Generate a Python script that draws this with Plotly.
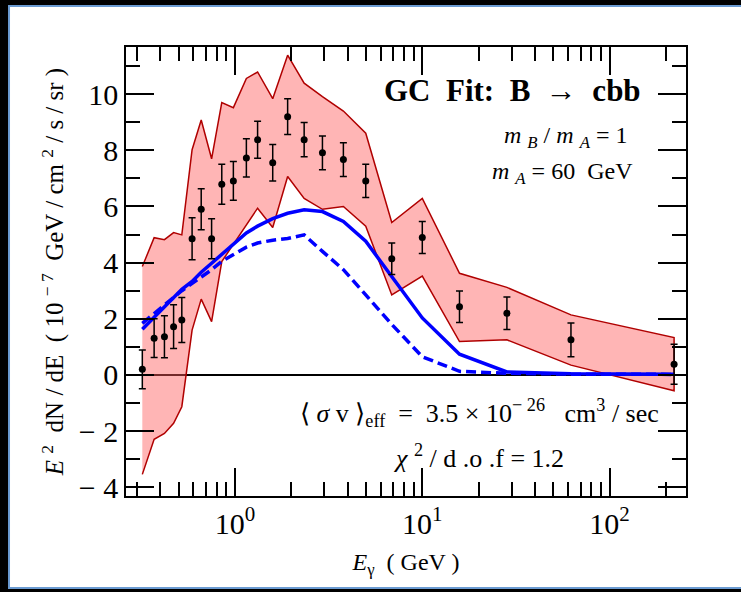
import plotly.graph_objects as go

# ---- data ----
energy = [0.32, 0.37, 0.42, 0.47, 0.52, 0.59, 0.66, 0.75, 0.85, 0.98, 1.15, 1.32,
          1.59, 1.91, 2.34, 2.93, 3.79, 4.99, 6.87, 10.0, 15.8, 28.3, 62.2, 221.0]
flux = [0.20, 1.31, 1.36, 1.72, 1.96, 4.85, 5.90, 4.85, 6.79, 6.91, 7.73, 8.38,
        7.56, 9.20, 8.38, 7.91, 7.67, 6.91, 4.14, 4.90, 2.43, 2.20, 1.25, 0.38]
flux_err = [0.69, 0.69, 0.75, 0.78, 0.80, 0.75, 0.73, 0.71, 0.71, 0.69, 0.68, 0.66,
            0.65, 0.64, 0.61, 0.60, 0.60, 0.59, 0.56, 0.57, 0.56, 0.58, 0.60, 0.71]
band_upper = [3.86, 4.89, 4.82, 5.07, 4.99, 8.02, 9.08, 7.70, 9.70, 9.52, 10.56, 10.79,
              9.84, 11.39, 10.39, 9.91, 9.40, 8.61, 5.43, 6.29, 3.62, 3.12, 2.14, 1.33]
band_lower = [-3.54, -2.29, -2.08, -1.72, -1.13, 1.60, 2.70, 1.90, 4.04, 4.65, 5.34, 5.94,
              5.25, 7.07, 6.29, 5.90, 6.00, 5.30, 2.85, 3.52, 1.19, 1.25, 0.35, -0.56]
model_total = [1.63, 2.05, 2.42, 2.75, 3.05, 3.33, 3.66, 3.98, 4.30, 4.65, 5.06, 5.30,
               5.57, 5.76, 5.88, 5.82, 5.47, 4.76, 3.50, 2.03, 0.74, 0.11, 0.04, 0.03]
model_dashed = [1.84, 2.20, 2.50, 2.76, 3.00, 3.25, 3.47, 3.75, 4.05, 4.30, 4.55, 4.70,
                4.80, 4.86, 4.99, 4.40, 3.75, 2.85, 1.80, 0.65, 0.13, 0.06, 0.03, 0.02]

x_major_vals = [1, 10, 100]
x_major_text = ["10<sup>0</sup>", "10<sup>1</sup>", "10<sup>2</sup>"]
x_minor_vals = [0.3, 0.4, 0.5, 0.6, 0.7, 0.8, 0.9, 2, 3, 4, 5, 6, 7, 8, 9,
                20, 30, 40, 50, 60, 70, 80, 90, 200]
y_major_vals = [-4, -2, 0, 2, 4, 6, 8, 10]
y_major_text = ["\u2212 4", "\u2212 2", "0", "2", "4", "6", "8", "10"]
y_minor_vals = [-3, -1, 1, 3, 5, 7, 9, 11]

FONT = "Liberation Serif"

fig = go.Figure()

# systematic band
fig.add_trace(go.Scatter(
    x=energy + energy[::-1], y=band_upper + band_lower[::-1],
    fill="toself", fillcolor="rgba(255,90,90,0.45)",
    line=dict(color="#b00000", width=1.5), mode="lines",
    hoverinfo="skip", showlegend=False))

fig.add_trace(go.Scatter(
    x=energy, y=model_total, mode="lines",
    line=dict(color="#0000ff", width=3.5), showlegend=False))
fig.add_trace(go.Scatter(
    x=energy, y=model_dashed, mode="lines",
    line=dict(color="#0000ff", width=3.5, dash="10px,5px"), showlegend=False))

fig.add_trace(go.Scatter(
    x=energy, y=flux, mode="markers",
    marker=dict(color="black", size=7),
    error_y=dict(type="data", array=flux_err, color="black", thickness=1.5, width=3.5),
    showlegend=False))

# frame: black strips left/top/bottom, blue border line
L, R, B, T = -0.2089, 1.3, -0.2049, 1.0913
for x0, x1, y0, y1 in [(-0.4, L, -0.4, 1.4), (-0.4, 1.4, T, 1.4), (-0.4, 1.4, -0.4, B)]:
    fig.add_shape(type="rect", xref="paper", yref="paper", x0=x0, x1=x1, y0=y0, y1=y1,
                  fillcolor="black", line=dict(width=0), layer="below")
fig.add_shape(type="rect", xref="paper", yref="paper", x0=L, x1=R, y0=B, y1=T,
              fillcolor="rgba(0,0,0,0)", line=dict(color="#6b9bd2", width=2), layer="below")

ann_font = dict(family=FONT, size=24, color="black")
def note(x, y, text, font):
    fig.add_annotation(xref="paper", yref="paper", x=x, y=y, showarrow=False,
                       xanchor="center", yanchor="middle", text=text, font=font)

note(0.691, 0.904, "<b>GC  Fit:  B  \u2192  cbb</b>", dict(family=FONT, size=31, color="black"))
note(0.784, 0.80, "<i>m</i> <sub><i>B</i></sub> / <i>m</i> <sub><i>A</i></sub> = 1", ann_font)
note(0.779, 0.719, "<i>m</i> <sub><i>A</i></sub> = 60  GeV", ann_font)
note(0.632, 0.185,
     "\u27e8 <i>\u03c3</i> v \u27e9<sub>eff</sub>  =  3.5 \u00d7 10<sup>\u2212 26</sup>   cm<sup>3</sup> / sec",
     dict(family=FONT, size=26, color="black"))
note(0.63, 0.087, "<i>\u03c7</i> <sup>2</sup> / d .o .f = 1.2", dict(family=FONT, size=26, color="black"))

axis_common = dict(
    showline=True, linecolor="black", linewidth=1.5, mirror="ticks",
    ticks="inside", tickcolor="black", tickwidth=1.5, ticklen=28,
    showgrid=False, tickfont=dict(family=FONT, size=30, color="black"),
)

fig.update_xaxes(
    type="log", range=[-0.582, 2.408],
    tickmode="array", tickvals=x_major_vals, ticktext=x_major_text,
    minor=dict(tickmode="array", tickvals=x_minor_vals, ticks="inside",
               ticklen=14, tickwidth=1.5, tickcolor="black"),
    zeroline=False,
    title=dict(text="<i>E</i><sub>\u03b3</sub>  ( GeV )",
               font=dict(family=FONT, size=24, color="black"), standoff=14),
    **axis_common)
fig.update_yaxes(
    range=[-4.31, 11.68],
    tickmode="array", tickvals=y_major_vals, ticktext=y_major_text,
    minor=dict(tickmode="array", tickvals=y_minor_vals, ticks="inside",
               ticklen=14, tickwidth=1.5, tickcolor="black"),
    zeroline=True, zerolinecolor="black", zerolinewidth=1.5,
    title=dict(text="<i>E</i> <sup>2</sup>  dN / dE  ( 10 <sup>\u2212 7</sup>  GeV / cm <sup>2</sup> / s / sr )",
               font=dict(family=FONT, size=25, color="black"), standoff=8),
    **axis_common)

fig.update_layout(
    width=741, height=592,
    margin=dict(l=126, r=55, t=47, b=96),
    paper_bgcolor="white", plot_bgcolor="white",
    font=dict(family=FONT, color="black"),
    showlegend=False,
)

page_js = (
    "var de=document.documentElement, bd=document.body;"
    "de.style.overflow='hidden'; de.style.scrollbarWidth='none'; de.style.background='white';"
    "bd.style.margin='0'; bd.style.padding='0'; bd.style.overflow='hidden'; bd.style.background='white';"
)
fig.write_html("out.html", config={"displayModeBar": False}, post_script=page_js)
